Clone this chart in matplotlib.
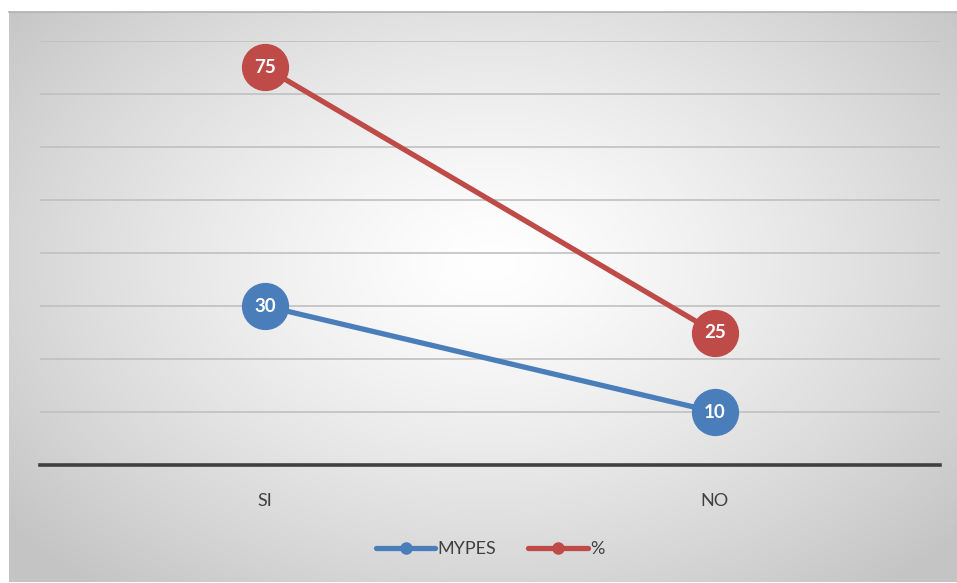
import numpy as np
import matplotlib.pyplot as plt
from matplotlib.lines import Line2D

plt.rcParams["font.family"] = ["Lato", "DejaVu Sans"]

categories = ["SI", "NO"]
mypes = [30, 10]
percent = [75, 25]

BLUE = "#4A7EBB"
RED = "#BE4B48"
TEXT = "#404040"

W, H = 957, 583
fig = plt.figure(figsize=(W / 100, H / 100), dpi=100)
fig.patch.set_facecolor("white")

# chart frame with a radial white-to-gray fill
bg = fig.add_axes([9 / W, 1 / H, 948 / W, 570 / H])
yy, xx = np.mgrid[0:570, 0:948]
cx, cy = 480, 250
r = np.hypot((xx - cx) / 620, (yy - cy) / 420)
r = np.clip(r, 0, 1)
shade = 1.0 - 0.23 * r ** 1.3
bg.imshow(np.dstack([shade] * 3), aspect="auto", interpolation="bilinear")
bg.set_xticks([])
bg.set_yticks([])
for s in bg.spines.values():
    s.set_visible(False)
bg.spines["top"].set_visible(True)
bg.spines["top"].set_color("#B0B0B0")
bg.spines["top"].set_linewidth(1.2)

ax = fig.add_axes([40 / W, (H - 465) / H, 900 / W, 424 / H])
ax.set_facecolor("none")
x = np.arange(len(categories))
ax.set_xlim(-0.5, len(categories) - 0.5)
ax.set_ylim(0, 80)

for g in range(10, 81, 10):
    ax.axhline(g, color="#C0C0C0", lw=1.2, zorder=1)
ax.axhline(0, color=TEXT, lw=2.6, zorder=2, clip_on=False)

for vals, col in [(mypes, BLUE), (percent, RED)]:
    ax.plot(x, vals, color=col, lw=3.8, marker="o", markersize=33,
            markerfacecolor=col, markeredgecolor=col, zorder=3,
            solid_capstyle="round")
    for xi, v in zip(x, vals):
        ax.text(xi, v, str(v), color="white", fontsize=13.5, fontweight="bold",
                ha="center", va="center", zorder=4)

ax.set_xticks(x)
ax.set_xticklabels(categories, fontsize=13, color=TEXT)
ax.tick_params(axis="x", length=0, pad=20)
ax.set_yticks([])
for s in ax.spines.values():
    s.set_visible(False)

handles = [
    Line2D([], [], color=BLUE, lw=3.8, marker="o", markersize=8, solid_capstyle="round"),
    Line2D([], [], color=RED, lw=3.8, marker="o", markersize=8, solid_capstyle="round"),
]
leg = fig.legend(handles, ["MYPES", "%"], loc="center", bbox_to_anchor=(490 / W, (H - 549) / H),
                 ncol=2, frameon=False, fontsize=13, handlelength=3.3,
                 handletextpad=0.1, columnspacing=1.8)
for t in leg.get_texts():
    t.set_color(TEXT)

fig.savefig("out.png", dpi=100)
